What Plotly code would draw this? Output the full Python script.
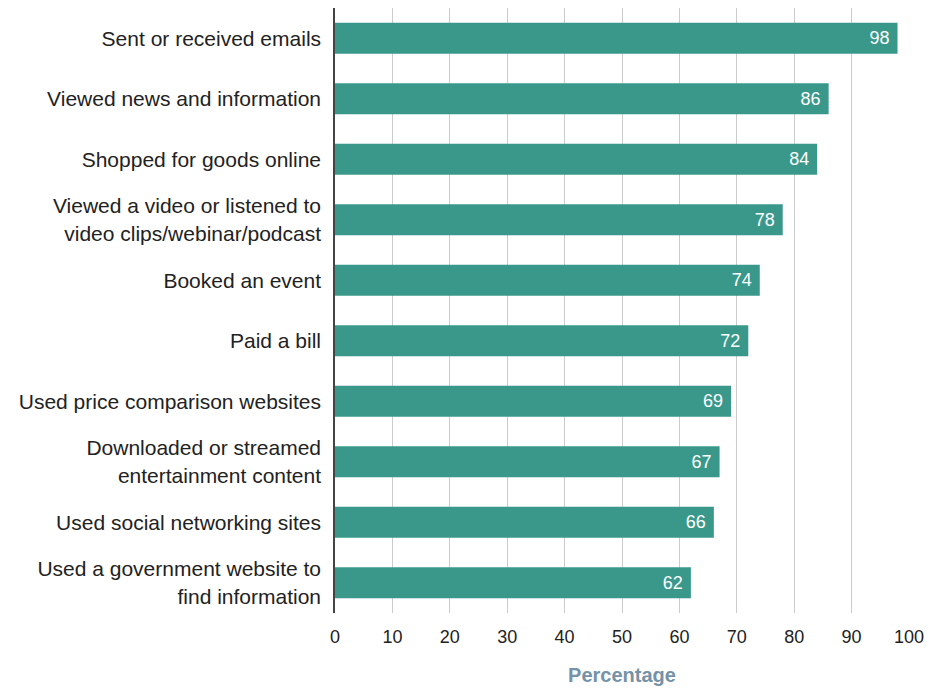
import plotly.graph_objects as go

# Online activities and share of respondents (%)
activities = [
    "Sent or received emails",
    "Viewed news and information",
    "Shopped for goods online",
    "Viewed a video or listened to<br>video clips/webinar/podcast",
    "Booked an event",
    "Paid a bill",
    "Used price comparison websites",
    "Downloaded or streamed<br>entertainment content",
    "Used social networking sites",
    "Used a government website to<br>find information",
]
percentages = [98, 86, 84, 78, 74, 72, 69, 67, 66, 62]
x_ticks = list(range(0, 101, 10))

FONT = "Liberation Sans, Arial, Helvetica, sans-serif"
BAR_COLOR = "#3a988b"

fig = go.Figure(
    go.Bar(
        x=percentages,
        y=activities,
        orientation="h",
        width=0.51,
        marker=dict(color=BAR_COLOR, line=dict(width=0)),
        text=[f"{v}&nbsp;" for v in percentages],
        textposition="inside",
        insidetextanchor="end",
        textfont=dict(color="white", size=18, family=FONT),
        cliponaxis=False,
        hoverinfo="x+y",
    )
)

fig.update_layout(
    width=929,
    height=688,
    margin=dict(l=335, r=20, t=8, b=75),
    paper_bgcolor="white",
    plot_bgcolor="white",
    showlegend=False,
    font=dict(family=FONT, color="#222222"),
)

fig.update_xaxes(
    range=[0, 100],
    tickvals=x_ticks,
    ticktext=[str(t) for t in x_ticks],
    tickfont=dict(size=18, color="#222222"),
    showgrid=True,
    gridcolor="#cccccc",
    gridwidth=1.3,
    zeroline=False,
    showline=False,
    ticks="",
    ticklabelstandoff=11,
    automargin=False,
    title=dict(
        text="<b>Percentage</b>",
        font=dict(size=20, color="#7592a8", family=FONT),
        standoff=21,
    ),
    fixedrange=True,
)

fig.update_yaxes(
    categoryorder="array",
    categoryarray=activities[::-1],
    tickfont=dict(size=21, color="#222222"),
    showline=True,
    linecolor="#444444",
    linewidth=1.5,
    ticks="",
    ticklabelstandoff=8,
    automargin=False,
    showgrid=False,
    fixedrange=True,
)

fig.write_html("out.html")
